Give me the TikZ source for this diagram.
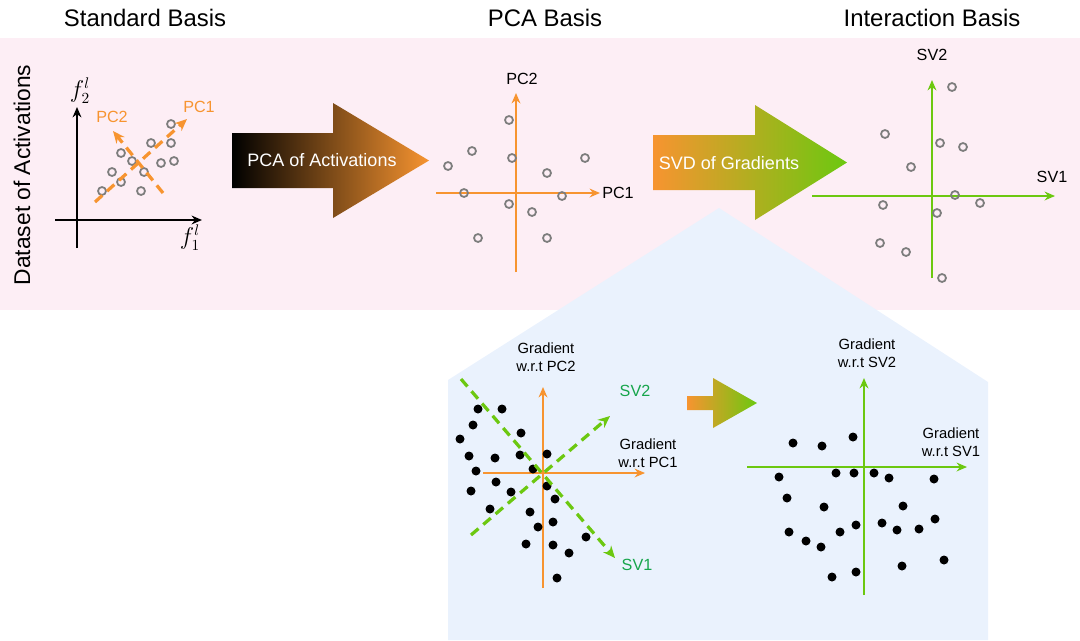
\documentclass[tikz,border=0pt]{standalone}
\usepackage{fontspec}
\setmainfont{Liberation Sans}
\usetikzlibrary{arrows.meta, positioning, calc}
\definecolor{pcaorange}{RGB}{247, 148, 48}
\definecolor{svgreen}{RGB}{108, 200, 16}
\definecolor{labelgreen}{RGB}{22, 165, 75}
\definecolor{actpink}{RGB}{253, 238, 245}
\definecolor{gradblue}{RGB}{234, 242, 253}
\definecolor{ptgray}{RGB}{125, 125, 125}

\tikzset{
  axis/.style={-{Stealth[length=2.6mm, width=2.2mm]}, line width=1.1pt},
  diraxis/.style={-{Stealth[length=3mm, width=2.6mm]}, line width=2.3pt, dash pattern=on 7pt off 4.5pt},
  hollowpt/.style={draw=ptgray, line width=1.25pt},
  title/.style={font=\fontsize{17}{20}\selectfont},
  axlabel/.style={font=\fontsize{11.5}{14}\selectfont},
  gradlabel/.style={font=\fontsize{10.5}{12.5}\selectfont, align=center},
  arrowtext/.style={font=\fontsize{12.8}{15}\selectfont, text=white},
  mathlabel/.style={font=\fontsize{16}{19}\selectfont, inner sep=0pt},
}

\begin{document}
\begin{tikzpicture}[x=0.025cm, y=-0.025cm]
  \useasboundingbox (0,0) rectangle (1080,640);

  % Backgrounds
  \fill[actpink] (0,38) rectangle (1080,310);
  \fill[gradblue] (448,640) -- (448,380) -- (719,208) -- (988,382) -- (988,640) -- cycle;

  % Titles
  \node[title] (stdtitle) at (145,18) {Standard Basis};
  \node[title] (pcatitle) at (545,18) {PCA Basis};
  \node[title] (inttitle) at (932,18) {Interaction Basis};
  \node[font=\fontsize{16.2}{19}\selectfont, rotate=90] (dataset) at (22,175) {Dataset of Activations};

  % Standard basis
  \draw[axis] (77,248) -- (77,107);
  \draw[axis] (55,220) -- (202,220);
  \node[mathlabel] (f2) at (80,91) {$f_2^l$};
  \node[mathlabel] (f1) at (190,238) {$f_1^l$};
  \foreach \px/\py in {102/191, 112/172, 121/182, 121/153, 132/161, 144/172,
                      141/191, 151/143, 161/163, 171/124, 171/143, 174/161}
    \draw[hollowpt] (\px,\py) circle[radius=4];
  \draw[diraxis, pcaorange] (95,202) -- (187,119);
  \draw[diraxis, pcaorange] (163,193) -- (113,131);
  \node[axlabel, text=pcaorange] (stdpc1) at (199,107) {PC1};
  \node[axlabel, text=pcaorange] (stdpc2) at (112,117) {PC2};

  % PCA arrow
  \shade[left color=black, right color=pcaorange] (232,133) -- (333,133) -- (333,103) -- (429,160.5)
    -- (333,218) -- (333,188) -- (232,188) -- cycle;
  \node[arrowtext] (pcatext) at (322,160) {PCA of Activations};

  % PCA basis
  \draw[axis, pcaorange] (516,272) -- (516,93);
  \draw[axis, pcaorange] (436,193) -- (600,193);
  \node[axlabel] (pcapc2) at (522,79) {PC2};
  \node[axlabel] (pcapc1) at (618,193) {PC1};
  \foreach \px/\py in {509/120, 472/151, 448/166, 512/158, 585/158, 547/173,
                      464/193, 562/196, 509/204, 532/212, 478/238, 547/238}
    \draw[hollowpt] (\px,\py) circle[radius=4];

  % SVD arrow
  \shade[left color=pcaorange, right color=svgreen] (653,135) -- (755,135) -- (755,105) -- (847,162.5)
    -- (755,220) -- (755,190) -- (653,190) -- cycle;
  \node[arrowtext] (svdtext) at (729,163) {SVD of Gradients};

  % Interaction basis
  \draw[axis, svgreen] (932,278) -- (932,80);
  \draw[axis, svgreen] (812,196) -- (1055,196);
  \node[axlabel] (intsv2) at (932,55) {SV2};
  \node[axlabel] (intsv1) at (1052,177) {SV1};
  \foreach \px/\py in {952/87, 885/134, 940/143, 963/147, 911/167, 955/195,
                      980/203, 883/205, 937/213, 880/243, 906/252, 942/278}
    \draw[hollowpt] (\px,\py) circle[radius=4];

  % Gradients w.r.t PCs
  \draw[axis, pcaorange] (543,588) -- (543,387);
  \draw[axis, pcaorange] (483,473) -- (645,473);
  \foreach \px/\py in {478/409, 502/409, 473/425, 521/433, 460/439, 469/456,
                      495/458, 520/455, 547/454, 476/471, 533/469, 496/482,
                      547/486, 471/491, 511/492, 555/499, 490/509, 530/512,
                      553/522, 538/527, 586/537, 526/544, 553/545, 569/553, 557/578}
    \fill (\px,\py) circle[radius=4.5];
  \draw[diraxis, svgreen] (461,379) -- (615,558);
  \draw[diraxis, svgreen] (471,535) -- (610,416);
  \node[gradlabel] (gpc2) at (546,357) {Gradient\\w.r.t PC2};
  \node[gradlabel] (gpc1) at (648,453) {Gradient\\w.r.t PC1};
  \node[axlabel, text=labelgreen] (dsv2) at (635,391) {SV2};
  \node[axlabel, text=labelgreen] (dsv1) at (637,565) {SV1};

  % Small arrow
  \shade[left color=pcaorange, right color=svgreen] (687,396) -- (713,396) -- (713,378) -- (757,403)
    -- (713,428) -- (713,410) -- (687,410) -- cycle;

  % Gradients w.r.t SVs
  \draw[axis, svgreen] (864,595) -- (864,378);
  \draw[axis, svgreen] (747,467) -- (967,467);
  \foreach \px/\py in {793/443, 822/446, 853/437, 779/477, 836/473, 854/473,
                      874/473, 889/478, 934/479, 787/498, 824/507, 903/506,
                      935/519, 789/532, 840/532, 856/525, 882/523, 897/530,
                      919/529, 806/541, 821/547, 944/560, 902/566, 832/577, 856/572}
    \fill (\px,\py) circle[radius=4.5];
  \node[gradlabel] (gsv2) at (867,353) {Gradient\\w.r.t SV2};
  \node[gradlabel] (gsv1) at (951,442) {Gradient\\w.r.t SV1};
\end{tikzpicture}
\end{document}
